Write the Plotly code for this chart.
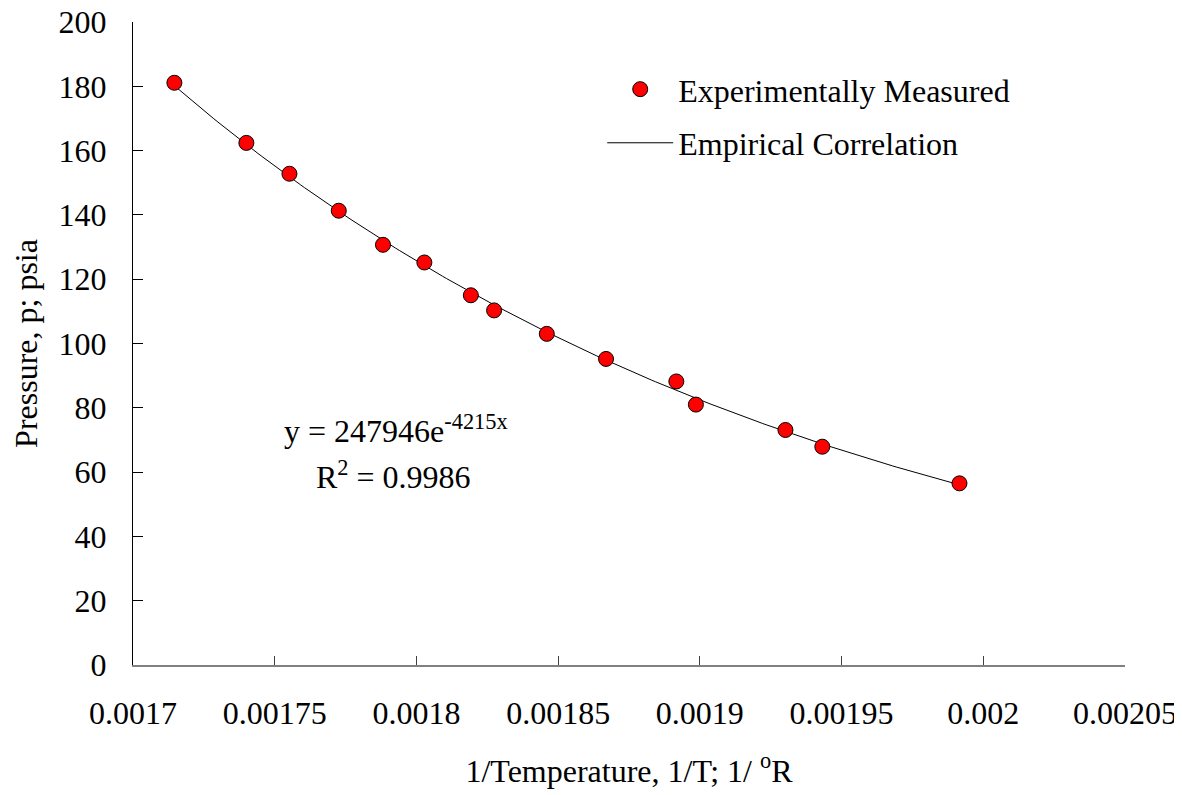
import numpy as np
import plotly.graph_objects as go

# Measured data
inv_T = [0.0017146, 0.0017400, 0.0017552, 0.0017726, 0.0017882, 0.0018028,
         0.0018192, 0.0018274, 0.0018460, 0.0018669, 0.0018917, 0.0018986,
         0.0019302, 0.0019432, 0.0019916]
pressure = [181.1, 162.4, 152.8, 141.3, 130.7, 125.2, 115.0, 110.3, 103.0,
            95.2, 88.2, 81.0, 73.1, 67.9, 56.5]

# Correlation coefficients (from the chart's equation)
coef_a = 247946
coef_b = -4215
r_squared = 0.9986

x_ticks = [0.0017, 0.00175, 0.0018, 0.00185, 0.0019, 0.00195, 0.002, 0.00205]
x_tick_labels = ["0.0017", "0.00175", "0.0018", "0.00185", "0.0019", "0.00195", "0.002", "0.00205"]
y_ticks = [0, 20, 40, 60, 80, 100, 120, 140, 160, 180, 200]

fit_x = np.linspace(min(inv_T), max(inv_T), 200)
fit_y = coef_a * np.exp(coef_b * fit_x)

FONT = "Liberation Serif"
FS = 32
F = dict(family=FONT, size=FS, color="black")

fig = go.Figure()
fig.add_trace(go.Scatter(
    x=fit_x, y=fit_y, mode="lines", name="Empirical Correlation",
    line=dict(color="black", width=1), legendgroup="b", legendrank=2))
fig.add_trace(go.Scatter(
    x=inv_T, y=pressure, mode="markers", name="Experimentally Measured",
    marker=dict(size=15, color="#ff0000", line=dict(color="black", width=1)),
    legendgroup="a", legendrank=1))

# page has an 8px body margin; plot area targets x 133..1125, y 22..665 in the window
fig.update_layout(
    width=1174, height=787,
    margin=dict(l=125, r=57, t=14, b=130, autoexpand=False),
    paper_bgcolor="white", plot_bgcolor="white",
    font=F,
    showlegend=True,
    legend=dict(x=0.473, y=0.938, xanchor="left", yanchor="top",
                bgcolor="rgba(0,0,0,0)", font=F,
                tracegroupgap=9, itemwidth=66),
    xaxis=dict(range=[0.0017, 0.00205], tickvals=x_ticks, ticktext=x_tick_labels,
               showgrid=False, zeroline=False, showline=True, linecolor="#808080",
               linewidth=2, ticks="inside", ticklen=9, tickcolor="#404040",
               ticklabelstandoff=19, automargin=False, tickfont=F,
               ticklabeloverflow="allow",
               title=dict(text="1/Temperature, 1/T; 1/ <sup>o</sup>R", standoff=29,
                          font=F)),
    yaxis=dict(range=[0, 200], tickvals=y_ticks, showgrid=False, zeroline=False,
               showline=True, linecolor="black", linewidth=1, ticks="inside",
               ticklen=10, tickcolor="black", ticklabelstandoff=19,
               automargin=False, tickfont=F, ticklabeloverflow="allow",
               title=dict(text="Pressure, p; psia", standoff=32, font=F)),
)

fig.add_annotation(x=0.0017 + (396 - 133) * 3.5294e-7, y=(665 - 429) / 3.2135,
                   xref="x", yref="y",
                   text=f"y = {coef_a}e<sup>{coef_b}x</sup>", showarrow=False, font=F)
fig.add_annotation(x=0.0017 + (393 - 133) * 3.5294e-7, y=(665 - 475) / 3.2135,
                   xref="x", yref="y",
                   text=f"R<sup>2</sup> = {r_squared}", showarrow=False, font=F)

fig.write_html("out.html")
